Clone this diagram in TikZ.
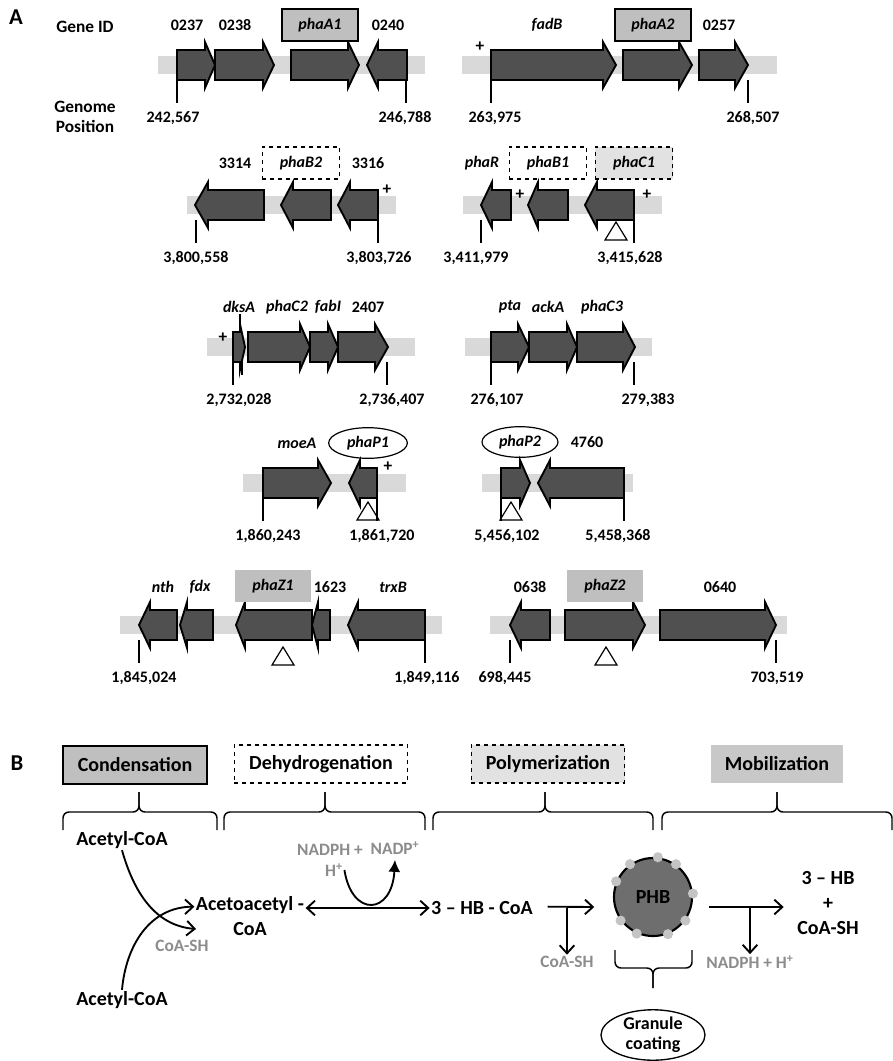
\documentclass[tikz,border=0pt]{standalone}
\usepackage{fontspec}
\setmainfont{Carlito}
\usepackage{tikz}
\usetikzlibrary{arrows.meta,positioning,calc,shapes.geometric}
\definecolor{genefill}{HTML}{505050}
\definecolor{barfill}{HTML}{D9D9D9}
\definecolor{boxfill}{HTML}{BFBFBF}
\definecolor{lightfill}{HTML}{E2E2E2}
\definecolor{mobfill}{HTML}{C8C8C8}
\definecolor{greytext}{HTML}{8C8C8C}
\definecolor{phbfill}{HTML}{6E6E6E}
\definecolor{dotfill}{HTML}{C4C4C4}
\tikzset{
  px/.style={x=0.75pt, y=-0.75pt, font=\fontsize{12}{13}\selectfont\bfseries},
  g bar/.style={fill=barfill},
  g arrow/.style={draw, fill=genefill, line width=1.4pt, line join=miter},
  g tick/.style={line width=0.8pt},
  g lbl/.style={inner sep=1pt},
  g head/.style={inner sep=1pt, font=\fontsize{13}{15}\selectfont\bfseries},
  g name/.style={inner sep=1pt, font=\fontsize{12}{13}\selectfont\bfseries\itshape},
  g box/.style={g name, minimum width=57pt, minimum height=24pt, draw, line width=0.8pt, fill=boxfill},
  g dbox/.style={g name, minimum width=58pt, minimum height=24pt, draw, line width=0.9pt, dashed},
  g zbox/.style={g name, minimum width=57pt, minimum height=24pt, fill=boxfill},
  g oval/.style={g name, ellipse, draw, line width=0.9pt, minimum width=58pt, minimum height=23pt, inner sep=0pt},
  g tri/.style={draw, fill=white, line width=0.9pt, line join=miter},
  g plus/.style={inner sep=0pt, font=\fontsize{13}{13}\selectfont\bfseries},
  panel/.style={inner sep=0pt, font=\fontsize{17}{17}\selectfont\bfseries},
  b stage/.style={minimum height=28.5pt, inner sep=2pt, line width=1pt, font=\fontsize{15}{17}\selectfont\bfseries},
  b chem/.style={inner sep=1pt, align=center, font=\fontsize{15}{18.5}\selectfont\bfseries},
  b side/.style={inner sep=1pt, text=greytext, font=\fontsize{13}{14}\selectfont\bfseries},
  b brace/.style={line width=1.1pt, rounded corners=4.5pt},
  b arr/.style={line width=1.4pt, -{Straight Barb[length=6pt, width=11pt]}},
  b fat/.style={line width=1.4pt, -{Latex[length=9pt, width=9pt]}},
  phb/.style={circle, draw, line width=1.6pt, fill=phbfill, minimum size=58.5pt, inner sep=0pt, font=\fontsize{15}{17}\selectfont\bfseries},
  coat/.style={ellipse, draw, line width=1pt, minimum width=78pt, minimum height=37pt, inner sep=0pt, align=center, font=\fontsize{13.5}{15}\selectfont\bfseries},
}
% gene arrows: #1 start, #2 head base, #3 tip (right) / #1 tip, #2 head base, #3 end (left); #4 row
\newcommand{\geneR}[4]{\draw[g arrow] (#1,#4-15) -- (#2,#4-15) -- (#2,#4-23) -- (#3,#4) -- (#2,#4+23) -- (#2,#4+15) -- (#1,#4+15) -- cycle;}
\newcommand{\geneL}[4]{\draw[g arrow] (#3,#4-15) -- (#2,#4-15) -- (#2,#4-23) -- (#1,#4) -- (#2,#4+23) -- (#2,#4+15) -- (#3,#4+15) -- cycle;}
\newcommand{\gbar}[3]{\fill[g bar] (#1,#3-9) rectangle (#2,#3+9);}
\newcommand{\gtri}[2]{\draw[g tri] (#1-11,#2+18) -- (#1,#2) -- (#1+11,#2+18) -- cycle;}
% position tick: x, row, node name, label x, text
\newcommand{\gpos}[5]{\draw[g tick] (#1,#2+15) -- (#1,#2+38); \node[g lbl] (#3) at (#4,#2+53) {#5};}
\newcommand{\bbrace}[3]{\draw[b brace] (#1,830) -- (#1,812) -- (#2,812) -- (#2,792); \draw[b brace] (#3,830) -- (#3,812) -- (#2,812) -- (#2,792);}

\begin{document}
\begin{tikzpicture}[px]
\useasboundingbox (0,0) rectangle (893,1061);
\node[panel] (pA) at (16,17) {A};
\node[g head] (geneid) at (85,27) {Gene ID};
\node[g head, align=center] (genpos) at (85,117) {Genome\\Position};

% row 1
\gbar{158}{425}{65}
\geneR{177}{205}{215}{65} \geneR{215}{263}{274}{65} \geneR{291}{348}{359}{65} \geneL{367}{378}{407}{65}
\node[g lbl] (n0237) at (187,25) {0237};
\node[g lbl] (n0238) at (235,25) {0238};
\node[g box] (phaA1) at (320,25) {phaA1};
\node[g lbl] (n0240) at (388,25) {0240};
\gpos{177}{65}{p242}{173}{242,567}
\gpos{406}{65}{p246}{405}{246,788}
\gbar{462}{777}{65}
\node[g plus] (pl1) at (480,47) {+};
\geneR{491}{603}{616}{65} \geneR{623}{679}{692}{65} \geneR{699}{735}{748}{65}
\node[g name] (fadB) at (547,25) {fadB};
\node[g box] (phaA2) at (653,25) {phaA2};
\node[g lbl] (n0257) at (719,25) {0257};
\gpos{491}{65}{p263}{495}{263,975}
\gpos{748}{65}{p268}{753}{268,507}

% row 2
\gbar{187}{396}{205}
\geneL{195}{208}{264}{205} \geneL{281}{293}{331}{205} \geneL{338}{350}{378}{205}
\node[g plus] (pl2) at (387,190) {+};
\node[g lbl] (n3314) at (235,163) {3314};
\node[g dbox] (phaB2) at (301,163) {phaB2};
\node[g lbl] (n3316) at (368,163) {3316};
\gpos{196}{205}{p3800}{196}{3,800,558}
\gpos{378}{205}{p3803}{379}{3,803,726}
\gbar{463}{662}{205}
\geneL{481}{492}{511}{205} \geneL{528}{538}{568}{205} \geneL{585}{597}{634}{205}
\node[g plus] (pl3) at (520,195) {+};
\node[g plus] (pl4) at (647,195) {+};
\node[g name] (phaR) at (482,163) {phaR};
\node[g dbox] (phaB1) at (548,163) {phaB1};
\node[g dbox, fill=lightfill] (phaC1) at (634,163) {phaC1};
\gtri{616}{222}
\gpos{481}{205}{p3411}{476}{3,411,979}
\gpos{634}{205}{p3415}{630}{3,415,628}

% row 3
\gbar{207}{415}{347}
\node[g plus] (pl5) at (223,338) {+};
\geneR{233}{240}{245}{347} \geneR{248}{300}{310}{347} \geneR{310}{328}{338}{347} \geneR{338}{375}{388}{347}
\node[g name] (dksA) at (239,307) {dksA};
\node[g name] (phaC2) at (287,307) {phaC2};
\node[g name] (fabI) at (328,307) {fabI};
\node[g lbl] (n2407) at (368,307) {2407};
\draw[g tick] (240,324) -- (dksA.south -| 240,0);
\draw[g tick] (242,362) -- (242,375);
\gpos{233}{347}{p2732}{239}{2,732,028}
\gpos{387}{347}{p2736}{392}{2,736,407}
\gbar{465}{652}{347}
\geneR{491}{518}{529}{347} \geneR{529}{567}{577}{347} \geneR{577}{623}{635}{347}
\node[g name] (pta) at (510,307) {pta};
\node[g name] (ackA) at (548,307) {ackA};
\node[g name] (phaC3) at (602,307) {phaC3};
\gpos{491}{347}{p276}{497}{276,107}
\gpos{634}{347}{p279}{648}{279,383}

% row 4
\gbar{243}{406}{483}
\geneR{263}{318}{331}{483} \geneL{349}{360}{377}{483}
\node[g plus] (pl6) at (388,467) {+};
\node[g name] (moeA) at (297,443) {moeA};
\node[g oval, minimum width=59pt] (phaP1) at (368,443) {phaP1};
\gtri{368}{502}
\gpos{263}{483}{p1860}{268}{1,860,243}
\gpos{377}{483}{p1861}{382}{1,861,720}
\gbar{482}{633}{483}
\geneR{501}{520}{530}{483} \geneL{538}{550}{624}{483}
\node[g oval, minimum width=57pt] (phaP2) at (520,442) {phaP2};
\node[g lbl] (n4760) at (587,442) {4760};
\gtri{511}{502}
\gpos{501}{483}{p5456}{507}{5,456,102}
\gpos{624}{483}{p5458}{618}{5,458,368}

% row 5
\gbar{120}{442}{625}
\geneL{139}{150}{177}{625} \geneL{180}{187}{213}{625} \geneL{236}{245}{312}{625} \geneL{312}{318}{330}{625} \geneL{348}{358}{425}{625}
\node[g name] (nth) at (163,587) {nth};
\node[g name] (fdx) at (200,587) {fdx};
\node[g zbox] (phaZ1) at (273,586) {phaZ1};
\node[g lbl] (n1623) at (330,587) {1623};
\node[g name] (trxB) at (393,587) {trxB};
\gtri{283}{647}
\gpos{139}{625}{p1845}{144}{1,845,024}
\gpos{425}{625}{p1849}{427}{1,849,116}
\gbar{490}{787}{625}
\geneL{510}{521}{550}{625} \geneR{565}{633}{645}{625} \geneR{660}{765}{776}{625}
\node[g lbl] (n0638) at (530,587) {0638};
\node[g zbox] (phaZ2) at (605,586) {phaZ2};
\node[g lbl] (n0640) at (720,587) {0640};
\gtri{606}{647}
\gpos{510}{625}{p698}{505}{698,445}
\gpos{776}{625}{p703}{777}{703,519}

% B: pathway
\node[panel] (pB) at (17,763) {B};
\node[b stage, draw, fill=boxfill, minimum width=108pt] (cond) at (135,765) {Condensation};
\node[b stage, draw, dashed, minimum width=130pt] (dehy) at (321,764) {Dehydrogenation};
\node[b stage, draw, dashed, fill=lightfill, minimum width=115pt] (poly) at (548,764) {Polymerization};
\node[b stage, fill=mobfill, minimum width=99pt] (mobi) at (777,764) {Mobilization};
\bbrace{63}{139}{217}
\bbrace{224}{325}{425}
\bbrace{433}{545}{653}
\bbrace{662}{777}{892}

\node[b chem] (acA) at (122,840) {Acetyl-CoA};
\node[b chem] (acB) at (122,1000) {Acetyl-CoA};
\node[b side] (coash1) at (182,946) {CoA-SH};
\node[b chem] (acac) at (250,916) {Acetoacetyl -\\CoA};
\node[b side] (nadph1) at (330,850) {NADPH +};
\node[b side] (hplus1) at (334,870) {H\textsuperscript{+}};
\node[b side] (nadp) at (395,848) {NADP\textsuperscript{+}};
\node[b chem] (hbcoa) at (482,908) {3 -- HB - CoA};
\node[phb] (phb) at (653,897) {PHB};
\foreach \a in {83,125,55,157,5,216,246,292,324} \fill[dotfill] (phb.\a) circle (3.8pt);
\node[b side] (coash2) at (567,962) {CoA-SH};
\node[b side] (nadph2) at (750,962) {NADPH + H\textsuperscript{+}};
\node[b chem] (hb) at (828,903) {3 -- HB\\+\\CoA-SH};
\node[coat] (coat) at (653,1035) {Granule\\coating};

\coordinate (cs) at (196,929);
\draw[b arr] (acA.south) .. controls (136,900) and (160,926) .. (cs);
\draw[b arr] (acB.north) .. controls (126,945) and (150,907) .. ([yshift=7pt]acac.east -| acac.west);
\draw[b arr, {Straight Barb[length=6pt, width=11pt]}-{Straight Barb[length=6pt, width=11pt]}] (acac.east |- hbcoa.west) -- (hbcoa.west);
\draw[b fat] (hplus1.east) .. controls (352,918) and (392,915) .. ([yshift=-3pt]nadp.south);
\draw[b arr] ([xshift=10pt,yshift=1pt]hbcoa.east) -- ([xshift=-14pt,yshift=-7.5pt]phb.west);
\draw[b arr] (coash2.north |- hbcoa.east) -- (coash2.north);
\draw[b arr, shorten >=9pt] ([xshift=12pt,yshift=-7.5pt]phb.east) -- (hb.west |- 0,907);
\draw[b arr] (nadph2.north |- 0,907) -- (nadph2.north);
\draw[b brace] (615,950) -- (615,968) -- (653,968) -- (653,988);
\draw[b brace] (692,950) -- (692,968) -- (653,968) -- (653,988);
\end{tikzpicture}
\end{document}
